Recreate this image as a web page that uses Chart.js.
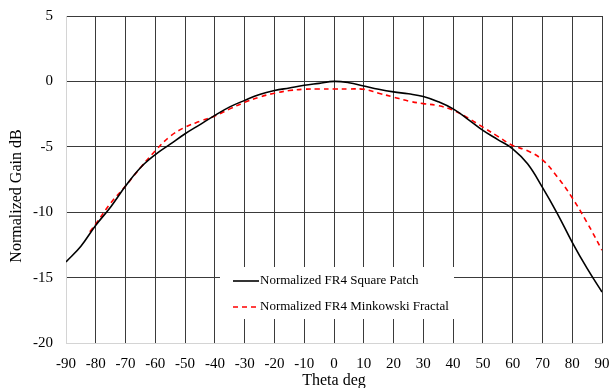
<!DOCTYPE html>
<html>
<head>
<meta charset="utf-8">
<script src="https://cdn.jsdelivr.net/npm/chart.js@4.4.1/dist/chart.umd.min.js"></script>
<style>
  body { margin: 0; background: #fff; }
  #wrap { width: 613px; height: 388px; }
</style>
</head>
<body>
<div id="wrap"><canvas id="gainChart" width="613" height="388"></canvas></div>
<script>
// theta (deg) and normalized gain (dB)
const thetaSquare = [-90, -85, -80, -75, -70, -65, -60, -55, -50, -45, -40, -35, -30, -25, -20, -15, -10, -5, 0,
                     5, 10, 15, 20, 25, 30, 35, 40, 45, 50, 55, 60, 65, 70, 75, 80, 85, 90];
const gainSquare = [-13.8, -12.6, -11.0, -9.6, -8.0, -6.6, -5.6, -4.8, -4.0, -3.3, -2.6, -1.95, -1.45, -1.0, -0.7, -0.5, -0.3, -0.15, 0,
                    -0.1, -0.35, -0.6, -0.8, -0.95, -1.15, -1.55, -2.1, -2.9, -3.75, -4.45, -5.15, -6.3, -8.1, -10.1, -12.3, -14.3, -16.1];

const thetaFractal = [-82, -80, -75, -70, -65, -60, -55, -50, -45, -40, -35, -30, -25, -20, -15, -10, -5, 0,
                      5, 10, 15, 20, 25, 30, 35, 40, 45, 50, 55, 60, 65, 70, 75, 80, 85, 90];
const gainFractal = [-11.5, -10.9, -9.3, -8.0, -6.6, -5.3, -4.2, -3.5, -3.05, -2.65, -2.1, -1.6, -1.2, -0.9, -0.7, -0.6, -0.58, -0.58,
                     -0.58, -0.6, -0.9, -1.2, -1.5, -1.7, -1.85, -2.2, -2.8, -3.5, -4.2, -4.9, -5.3, -6.0, -7.3, -8.9, -10.8, -12.9];

const seriesNames = ['Normalized FR4 Square Patch', 'Normalized FR4 Minkowski Fractal'];
const xTitle = 'Theta deg';
const yTitle = 'Normalized Gain dB';

const FONT = 'Liberation Serif';
const GRID = '#3a3a3a';
const AXIS = '#d4d4d4';

// legend drawn inside the plot area, white box over the gridlines
const boxLegend = {
  id: 'boxLegend',
  afterDatasetsDraw(chart) {
    const c = chart.ctx;
    const a = chart.chartArea;
    const x0 = a.left + 154, y0 = a.top + 251;
    c.save();
    c.fillStyle = '#fff';
    c.fillRect(x0, y0, 234, 52);
    c.font = '13px ' + FONT;
    c.textBaseline = 'middle';
    chart.data.datasets.forEach((ds, i) => {
      const y = y0 + 14 + i * 26;
      c.beginPath();
      c.strokeStyle = ds.borderColor;
      c.lineWidth = ds.borderWidth;
      c.setLineDash(ds.borderDash || []);
      c.moveTo(x0 + 13, y);
      c.lineTo(x0 + 39, y);
      c.stroke();
      c.setLineDash([]);
      c.fillStyle = '#000';
      c.fillText(ds.label, x0 + 40, y);
    });
    c.restore();
  }
};

// y title sits a bit below the axis middle in the original
const yAxisTitle = {
  id: 'yAxisTitle',
  afterDraw(chart) {
    const c = chart.ctx;
    c.save();
    c.translate(17, 196);
    c.rotate(-Math.PI / 2);
    c.font = '16px ' + FONT;
    c.fillStyle = '#000';
    c.textAlign = 'center';
    c.textBaseline = 'middle';
    c.fillText(yTitle, 0, 0);
    c.restore();
  }
};

new Chart(document.getElementById('gainChart'), {
  type: 'line',
  data: {
    datasets: [{
      label: seriesNames[0],
      data: thetaSquare.map((t, i) => ({ x: t, y: gainSquare[i] })),
      borderColor: '#000',
      borderWidth: 1.6,
      pointRadius: 0,
      tension: 0.4,
      fill: false
    }, {
      label: seriesNames[1],
      data: thetaFractal.map((t, i) => ({ x: t, y: gainFractal[i] })),
      borderColor: '#ff0000',
      borderWidth: 1.6,
      borderDash: [5, 4],
      pointRadius: 0,
      tension: 0.4,
      fill: false
    }]
  },
  options: {
    responsive: false,
    animation: false,
    layout: { padding: { left: 0, right: 11, top: 16, bottom: 0 } },
    plugins: { legend: { display: false }, tooltip: { enabled: false } },
    scales: {
      x: {
        type: 'linear',
        min: -90, max: 90,
        afterFit(s) { s.height = 45; s.paddingLeft = 0; s.paddingRight = 0; },
        ticks: { stepSize: 10, color: '#000', font: { family: FONT, size: 15 }, padding: 12, maxRotation: 0 },
        grid: { color: c => c.tick && c.tick.value === -90 ? AXIS : GRID, drawTicks: false },
        border: { color: AXIS, width: 1 },
        title: { display: true, text: xTitle, color: '#000', font: { family: FONT, size: 16 }, padding: { top: 0, bottom: -2 } }
      },
      y: {
        min: -20, max: 5,
        afterFit(s) { s.width = 66; s.paddingTop = 0; s.paddingBottom = 0; },
        ticks: { stepSize: 5, color: '#000', font: { family: FONT, size: 15 }, padding: 13 },
        grid: { color: c => c.tick && c.tick.value === -20 ? AXIS : GRID, drawTicks: false },
        border: { color: AXIS, width: 1 }
      }
    }
  },
  plugins: [boxLegend, yAxisTitle]
});
</script>
</body>
</html>
